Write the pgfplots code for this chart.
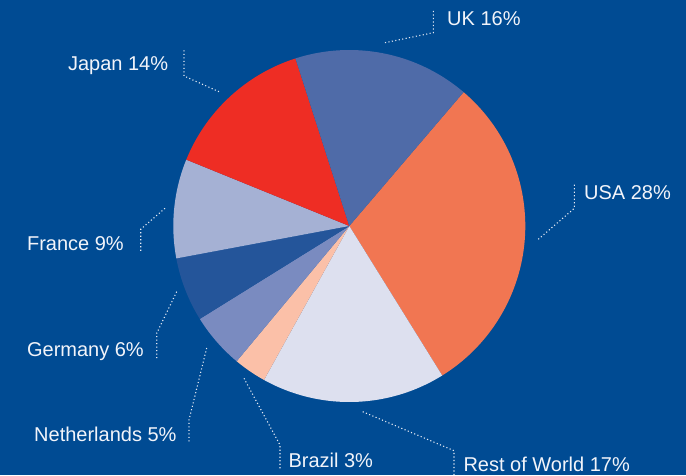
\documentclass[border=0pt]{standalone}
\usepackage{fontspec}
\setmainfont{Liberation Sans}
\usepackage{pgfplots}
\pgfplotsset{compat=1.18}
\definecolor{bgblue}{HTML}{004B93}
\definecolor{cUSA}{HTML}{F17652}
\definecolor{cRoW}{HTML}{DDE0EF}
\definecolor{cBrazil}{HTML}{FBC0A8}
\definecolor{cNeth}{HTML}{7A8BC0}
\definecolor{cGer}{HTML}{24559A}
\definecolor{cFra}{HTML}{A5B1D4}
\definecolor{cJap}{HTML}{EE2D24}
\definecolor{cUK}{HTML}{4F6BA8}
\definecolor{lead}{HTML}{E6EAF4}
\definecolor{labtext}{HTML}{F2F4FA}
\tikzset{lab/.style={font=\fontsize{20}{24}\selectfont, text=labtext, inner sep=0pt}}
% centre and radius of the pie (in axis units = px)
\def\cx{349.3}\def\cy{249}\def\rr{176}
\xdef\angA{49.5}
\newcommand\pieslice[2]{%
  \pgfmathsetmacro\angB{\angA-3.6*#1}%
  \edef\doslice{\noexpand\addplot[fill=#2, draw=none, domain=\angB:\angA, samples=90, variable=\noexpand\t]
    ({\cx+\rr*cos(\noexpand\t)},{\cy+\rr*sin(\noexpand\t)}) -- (axis cs:\cx,\cy) -- cycle;}%
  \doslice
  \xdef\angA{\angB}%
}
\begin{document}
\begin{tikzpicture}
\begin{axis}[width=686pt, height=475pt, scale only axis,
  xmin=0, xmax=686, ymin=0, ymax=475, hide axis, clip=true]
\addplot[fill=bgblue, draw=none] coordinates {(0,0) (686,0) (686,475) (0,475)} -- cycle;
% slices (percent of circle), clockwise from 49.5 deg
\pieslice{29.9}{cUSA}
\pieslice{16.9}{cRoW}
\pieslice{3.0}{cBrazil}
\pieslice{5.1}{cNeth}
\pieslice{5.9}{cGer}
\pieslice{9.1}{cFra}
\pieslice{13.9}{cJap}
\pieslice{16.2}{cUK}
% leader lines
\pgfplotsset{leader/.style={lead, line width=1.1pt, dash pattern=on 1.1pt off 2.4pt}}
\addplot[leader] coordinates {(385,432.3) (433.3,442.3) (433.3,465.7)};
\addplot[leader] coordinates {(538.3,235.7) (574.3,266.7) (574.3,291.7)};
\addplot[leader] coordinates {(219,383.3) (184,399) (184,425.7)};
\addplot[leader] coordinates {(165,266.7) (140.7,245.7) (140.7,223.3)};
\addplot[leader] coordinates {(176.7,183.3) (156.7,141.7) (156.7,116.7)};
\addplot[leader] coordinates {(206.7,127) (189,55) (189,32)};
\addplot[leader] coordinates {(244,96.7) (280,30) (280,6.7)};
\addplot[leader] coordinates {(362.7,63.3) (454,24.3) (454,0)};
% labels
\node[lab, anchor=base west] at (axis cs:447,449) {UK 16\%};
\node[lab, anchor=base west] at (axis cs:584,275.7) {USA 28\%};
\node[lab, anchor=base east] at (axis cs:168.3,404) {Japan 14\%};
\node[lab, anchor=base east] at (axis cs:124,225) {France 9\%};
\node[lab, anchor=base east] at (axis cs:144,119) {Germany 6\%};
\node[lab, anchor=base east] at (axis cs:176.7,33.3) {Netherlands 5\%};
\node[lab, anchor=base west] at (axis cs:288.3,7.7) {Brazil 3\%};
\node[lab, anchor=base west] at (axis cs:463.3,4) {Rest of World 17\%};
\end{axis}
\end{tikzpicture}
\end{document}
